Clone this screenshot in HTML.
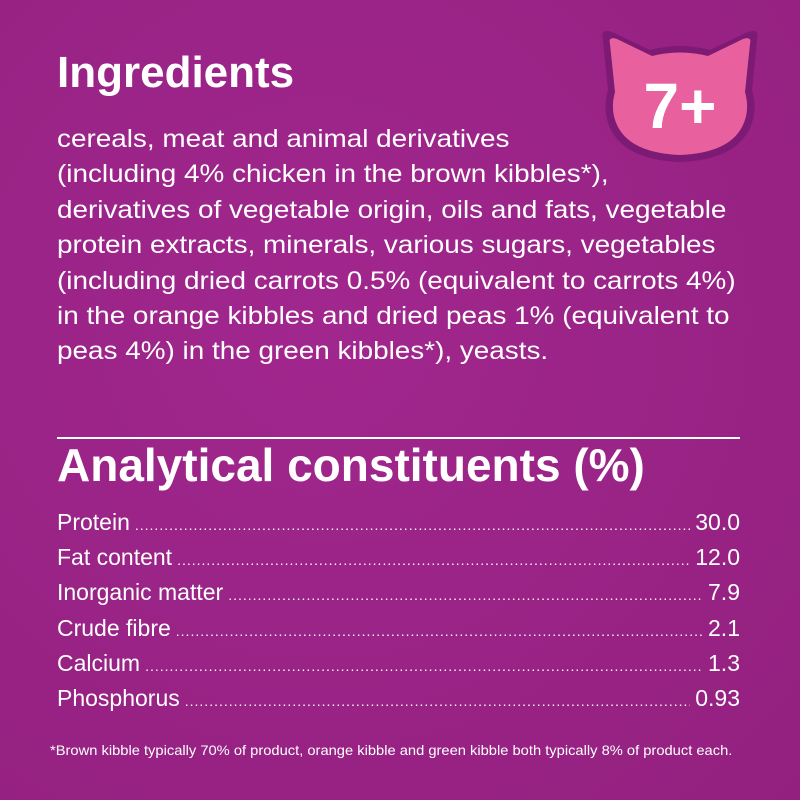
<!DOCTYPE html>
<html><head><style>
body{margin:0;width:800px;height:800px;background:#982386;background:radial-gradient(ellipse at 40% 40%,#a1278e,#93207f);font-family:"Liberation Sans",sans-serif;color:#fff;position:relative;overflow:hidden}
.t{position:absolute;left:57px;white-space:nowrap;transform-origin:0 0}
h1{position:absolute;margin:0;left:57px;font-weight:bold;white-space:nowrap}
.row{position:absolute;left:57px;width:683px;display:flex;font-size:23px;line-height:26px}
.row .d{flex:1;overflow:hidden;white-space:nowrap;margin:0 5px;letter-spacing:1px;font-size:14px;align-self:flex-end;line-height:20px}
</style></head><body>
<svg style="position:absolute;left:0;top:0" width="800" height="800">
<path d="M603 40 Q600 28 612 32 L650 50 Q680 42 710 50 L748 32 Q760 28 757 40 L752 90 Q758 110 750 128 Q735 160 680 162 Q625 160 610 128 Q602 110 608 90 Z" fill="#7d1a74"/>
<path d="M610 44 Q608 36 617 39 L652 56 Q680 49 708 56 L743 39 Q752 36 750 44 L745 92 Q750 110 743 125 Q730 153 680 155 Q630 153 617 125 Q610 110 615 92 Z" fill="#e9609f"/>
<text x="680" y="128" text-anchor="middle" font-family="Liberation Sans" font-weight="bold" font-size="64" fill="#fff">7+</text>
<line x1="57" y1="438" x2="740" y2="438" stroke="#fff" stroke-width="2"/>
</svg>
<h1 style="top:48px;font-size:44px">Ingredients</h1>
<div class="t" style="top:122px;font-size:25px;line-height:35.4px;transform:scaleX(1.115)">cereals, meat and animal derivatives<br>(including 4% chicken in the brown kibbles*),<br>derivatives of vegetable origin, oils and fats, vegetable<br>protein extracts, minerals, various sugars, vegetables<br>(including dried carrots 0.5% (equivalent to carrots 4%)<br>in the orange kibbles and dried peas 1% (equivalent to<br>peas 4%) in the green kibbles*), yeasts.</div>
<h1 style="top:438px;font-size:46px">Analytical constituents (%)</h1>
<div class="row" style="top:509px"><span>Protein</span><span class="d">..................................................................................................................................................</span><span>30.0</span></div>
<div class="row" style="top:544px"><span>Fat content</span><span class="d">..................................................................................................................................................</span><span>12.0</span></div>
<div class="row" style="top:579px"><span>Inorganic matter</span><span class="d">..................................................................................................................................................</span><span>7.9</span></div>
<div class="row" style="top:615px"><span>Crude fibre</span><span class="d">..................................................................................................................................................</span><span>2.1</span></div>
<div class="row" style="top:650px"><span>Calcium</span><span class="d">..................................................................................................................................................</span><span>1.3</span></div>
<div class="row" style="top:685px"><span>Phosphorus</span><span class="d">..................................................................................................................................................</span><span>0.93</span></div>
<div class="t" style="top:742px;left:50px;font-size:14px;transform:scaleX(1.05)">*Brown kibble typically 70% of product, orange kibble and green kibble both typically 8% of product each.</div>
</body></html>
